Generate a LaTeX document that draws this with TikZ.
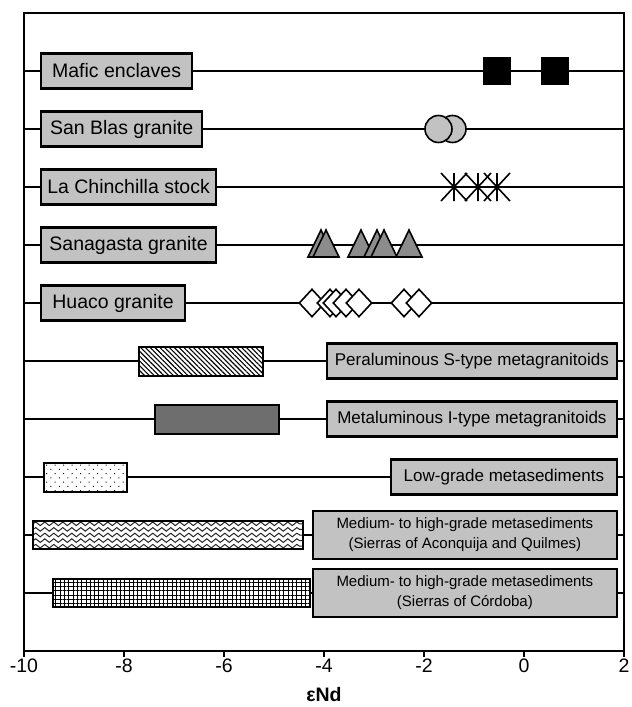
\documentclass[tikz,border=0pt]{standalone}
\usepackage{fontspec}
\setmainfont{Liberation Sans}
\usetikzlibrary{positioning,shapes.geometric,patterns.meta,decorations.pathmorphing}
\definecolor{grisclair}{gray}{0.76}
\definecolor{grismoyen}{gray}{0.55}
\definecolor{grisfonce}{gray}{0.43}

\begin{document}
\begin{tikzpicture}[x=50pt, y=-58pt,
cadre/.style={draw=black, line width=2pt},
ligne/.style={draw=black, line width=1.6pt},
etiquette/.style={rectangle, draw=black, line width=2.2pt, fill=grisclair, minimum height=35pt, inner sep=0pt, anchor=west, font=\fontsize{19.5}{23}\selectfont},
groupe/.style={rectangle, draw=black, line width=2.2pt, fill=grisclair, minimum height=35pt, inner sep=0pt, anchor=east, font=\fontsize{17}{20}\selectfont},
groupe2/.style={groupe, minimum height=48pt, align=center, font=\fontsize{15}{20}\selectfont},
barre/.style={rectangle, draw=black, line width=2pt, preaction={fill=white}, minimum height=29pt, inner sep=0pt},
carre/.style={rectangle, fill=black, minimum size=28pt, inner sep=0pt},
rond/.style={circle, draw=black, line width=1.6pt, fill=grisclair, minimum size=27pt, inner sep=0pt},
losange/.style={diamond, draw=black, line width=1.6pt, fill=white, minimum width=26pt, minimum height=28pt, inner sep=0pt},
trigone/.style={draw=black, line width=1.6pt, fill=grismoyen, line join=miter},
etoile/.style={draw=black, line width=1.6pt},
graduation/.style={inner sep=0pt, anchor=base, font=\fontsize{19.5}{23}\selectfont},
titre/.style={inner sep=0pt, font=\fontsize{19.5}{23}\selectfont\bfseries},
]
    % Longueurs
    \def\gauche{-9.68}
    \def\droite{1.88}

    \useasboundingbox (-10.48,-1.2241) rectangle (2.16,10.9655);

    % Lignes horizontales
    \foreach \r in {0,...,9} {
        \coordinate (g\r) at (-10,\r);
        \coordinate (d\r) at (2,\r);
        \draw [ligne] (g\r) -- (d\r);
    }

    % Cadre et axe
    \draw [cadre] (-10,-1) rectangle (2,10);
    \foreach \v [count=\i] in {-10,-8,...,2} {
        \draw [cadre] (\v,10) -- ++(0,-6pt);
        \node [graduation] (graduation\i) at (\v,10.362) {\v};
    }
    \node [titre, below=15pt of graduation4] (titre) {εNd};

    % Etiquettes des granites
    \node [etiquette, minimum width=151pt] (mafic) at (\gauche,0) {Mafic enclaves};
    \node [etiquette, minimum width=161pt] (sanblas) at (\gauche,1) {San Blas granite};
    \node [etiquette, minimum width=175pt] (chinchilla) at (\gauche,2) {La Chinchilla stock};
    \node [etiquette, minimum width=175pt] (sanagasta) at (\gauche,3) {Sanagasta granite};
    \node [etiquette, minimum width=144pt] (huaco) at (\gauche,4) {Huaco granite};

    % Points
    \foreach \x [count=\i] in {-0.54,0.62}
        \node [carre] (carre\i) at (\x,0) {};
    \foreach \x [count=\i] in {-1.43,-1.71}
        \node [rond] (rond\i) at (\x,1) {};
    \foreach \x in {-1.4,-0.92,-0.54}
        \draw [etoile] (\x,2) ++(-13pt,-14pt) -- ++(26pt,28pt) ++(-26pt,0) -- ++(26pt,-28pt) ++(-13pt,0) -- ++(0,28pt);
    \foreach \x in {-4.06,-3.96,-3.26,-2.94,-2.8,-2.3}
        \filldraw [trigone] (\x,3) ++(-13pt,-12pt) -- ++(26pt,0) -- ++(-13pt,27pt) -- cycle;
    \foreach \x [count=\i] in {-4.24,-3.88,-3.76,-3.56,-3.3,-2.4,-2.1}
        \node [losange] (losange\i) at (\x,4) {};

    % Barres
    \node [barre, minimum width=124pt, pattern={Lines[angle=-45, distance=3.4pt, line width=1.1pt]}] (peral) at (-6.46,5) {};
    \node [barre, minimum width=124pt, fill=grisfonce] (metal) at (-6.14,6) {};
    \node [barre, minimum width=83pt, pattern={Dots[angle=45, distance=6pt, radius=0.75pt]}] (bas) at (-8.77,7) {};
    \node [barre, minimum width=270pt, minimum height=28pt,
        path picture={\foreach \k in {-2,...,2}
            \draw [line width=1pt, black!85, decorate, decoration={snake, segment length=9pt, amplitude=1.8pt}]
                ([yshift=\k*5.6pt]path picture bounding box.west) -- ([yshift=\k*5.6pt]path picture bounding box.east);}] (moyen1) at (-7.12,8) {};
    \node [barre, minimum width=257pt, minimum height=28pt, pattern={Lines[distance=4.3pt, line width=1pt]},
        postaction={pattern={Lines[angle=90, distance=4.3pt, line width=1pt]}}] (moyen2) at (-6.85,9) {};

    % Etiquettes des encaissants
    \node [groupe, minimum width=290pt] (peraltxt) at (\droite,5) {Peraluminous S-type metagranitoids};
    \node [groupe, minimum width=290pt] (metaltxt) at (\droite,6) {Metaluminous I-type metagranitoids};
    \node [groupe, minimum width=226pt] (bastxt) at (\droite,7) {Low-grade metasediments};
    \node [groupe2, minimum width=304pt] (moyen1txt) at (\droite,8) {Medium- to high-grade metasediments\\(Sierras of Aconquija and Quilmes)};
    \node [groupe2, minimum width=304pt] (moyen2txt) at (\droite,9) {Medium- to high-grade metasediments\\(Sierras of Córdoba)};
\end{tikzpicture}
\end{document}
